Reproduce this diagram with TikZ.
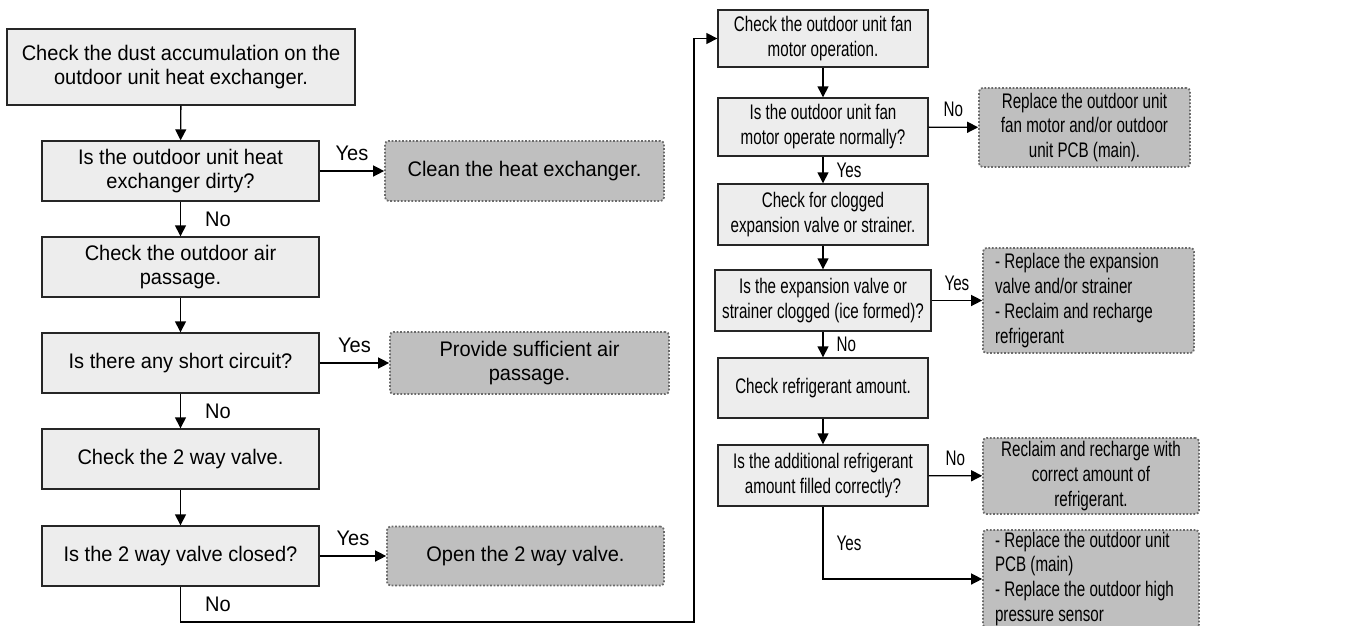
\documentclass[tikz,border=0pt]{standalone}
\usepackage{fontspec}
\setmainfont[FakeStretch=0.95]{Liberation Sans}
\newfontfamily\narrowsf[FakeStretch=0.72]{Liberation Sans}
\usetikzlibrary{arrows.meta,positioning}
\definecolor{chkfill}{HTML}{EDEDED}
\definecolor{actfill}{HTML}{BFBFBF}
\definecolor{dotline}{HTML}{6A6A6A}

\begin{document}
\begin{tikzpicture}[x=0.02cm,y=-0.02cm,>={Triangle[length=2.2mm,width=2.2mm]},
    font=\fontsize{12}{14}\selectfont,line width=0.8pt,
    chk/.style={draw=black!85,fill=chkfill,align=center,inner sep=1pt},
    lbox/.style={chk,minimum width=5.54cm,minimum height=1.2cm},
    act/.style={draw=dotline,fill=actfill,dash pattern=on 1pt off 1pt,
      line width=1pt,rounded corners=2pt,align=center,inner sep=1pt},
    rt/.style={font=\narrowsf\fontsize{12}{14.2}\selectfont},
    hlab/.style={above=2pt},
    vlab/.style={right=0.36cm},
    vlabr/.style={right=0.14cm,rt}]
  \useasboundingbox (0,0) rectangle (1368,625);

  % left column
  \node[chk,minimum width=6.96cm,minimum height=1.52cm] (dust) at (181,67)
    {Check the dust accumulation on the\\outdoor unit heat exchanger.};
  \node[lbox] (dirty)  at (180.5,171) {Is the outdoor unit heat\\exchanger dirty?};
  \node[lbox] (air)    at (180.5,267) {Check the outdoor air\\passage.};
  \node[lbox] (short)  at (180.5,363) {Is there any short circuit?};
  \node[lbox] (valve)  at (180.5,459) {Check the 2 way valve.};
  \node[lbox] (closed) at (180.5,556) {Is the 2 way valve closed?};

  \node[act,minimum width=5.58cm,minimum height=1.2cm] (clean) at (524.5,171)
    {Clean the heat exchanger.};
  \node[act,minimum width=5.58cm,minimum height=1.24cm] (provide) at (529.5,363)
    {Provide sufficient air\\passage.};
  \node[act,minimum width=5.54cm,minimum height=1.18cm] (open) at (525.5,556)
    {Open the 2 way valve.};

  % right column
  \node[chk,rt,minimum width=4.2cm,minimum height=1.14cm] (fan) at (823,38.5)
    {Check the outdoor unit fan\\motor operation.};
  \node[chk,rt,minimum width=4.2cm,minimum height=1.16cm] (fanok) at (823,127)
    {Is the outdoor unit fan\\motor operate normally?};
  \node[chk,rt,minimum width=4.2cm,minimum height=1.22cm] (clog) at (823,214.5)
    {Check for clogged\\expansion valve or strainer.};
  \node[chk,rt,minimum width=4.32cm,minimum height=1.22cm] (ice) at (823,300.5)
    {Is the expansion valve or\\strainer clogged (ice formed)?};
  \node[chk,rt,minimum width=4.2cm,minimum height=1.2cm] (amount) at (823,388)
    {Check refrigerant amount.};
  \node[chk,rt,minimum width=4.2cm,minimum height=1.22cm] (filled) at (823,475.5)
    {Is the additional refrigerant\\amount filled correctly?};

  \node[act,rt,minimum width=4.22cm,minimum height=1.58cm] (fanrep) at (1084.5,127.5)
    {Replace the outdoor unit\\fan motor and/or outdoor\\unit PCB (main).};
  \node[act,rt,align=flush left,text width=3.74cm,inner xsep=0.24cm,minimum height=2.1cm]
    (exprep) at (1088.5,300.5)
    {- Replace the expansion\\valve and/or strainer\\- Reclaim and recharge\\refrigerant};
  \node[act,rt,minimum width=4.32cm,minimum height=1.52cm] (recharge) at (1091,476)
    {Reclaim and recharge with\\correct amount of\\refrigerant.};
  \node[act,rt,align=flush left,text width=3.84cm,inner xsep=0.24cm,minimum height=1.96cm]
    (pcbrep) at (1091,579)
    {- Replace the outdoor unit\\PCB (main)\\- Replace the outdoor high\\pressure sensor};

  \coordinate (turn) at (694,622);

  % connectors
  \draw[->] (dust) -- (dirty);
  \draw[->] (dirty) -- node[hlab]{Yes} (clean);
  \draw[->] (dirty) -- node[vlab]{No} (air);
  \draw[->] (air) -- (short);
  \draw[->] (short) -- node[hlab]{Yes} (provide);
  \draw[->] (short) -- node[vlab]{No} (valve);
  \draw[->] (valve) -- (closed);
  \draw[->] (closed) -- node[hlab]{Yes} (open);
  \draw[->] (closed) |- node[pos=0.25,vlab]{No} (turn) |- (fan);

  \draw[->] (fan) -- (fanok);
  \draw[->] (fanok) -- node[hlab,rt]{No} (fanrep);
  \draw[->] (fanok) -- node[vlabr]{Yes} (clog);
  \draw[->] (clog) -- (ice);
  \draw[->] (ice) -- node[hlab,rt]{Yes} (exprep);
  \draw[->] (ice) -- node[vlabr]{No} (amount);
  \draw[->] (amount) -- (filled);
  \draw[->] (filled) -- node[hlab,rt]{No} (recharge);
  \draw[->] (filled) |- node[pos=0.25,vlabr]{Yes} (pcbrep);
\end{tikzpicture}
\end{document}
